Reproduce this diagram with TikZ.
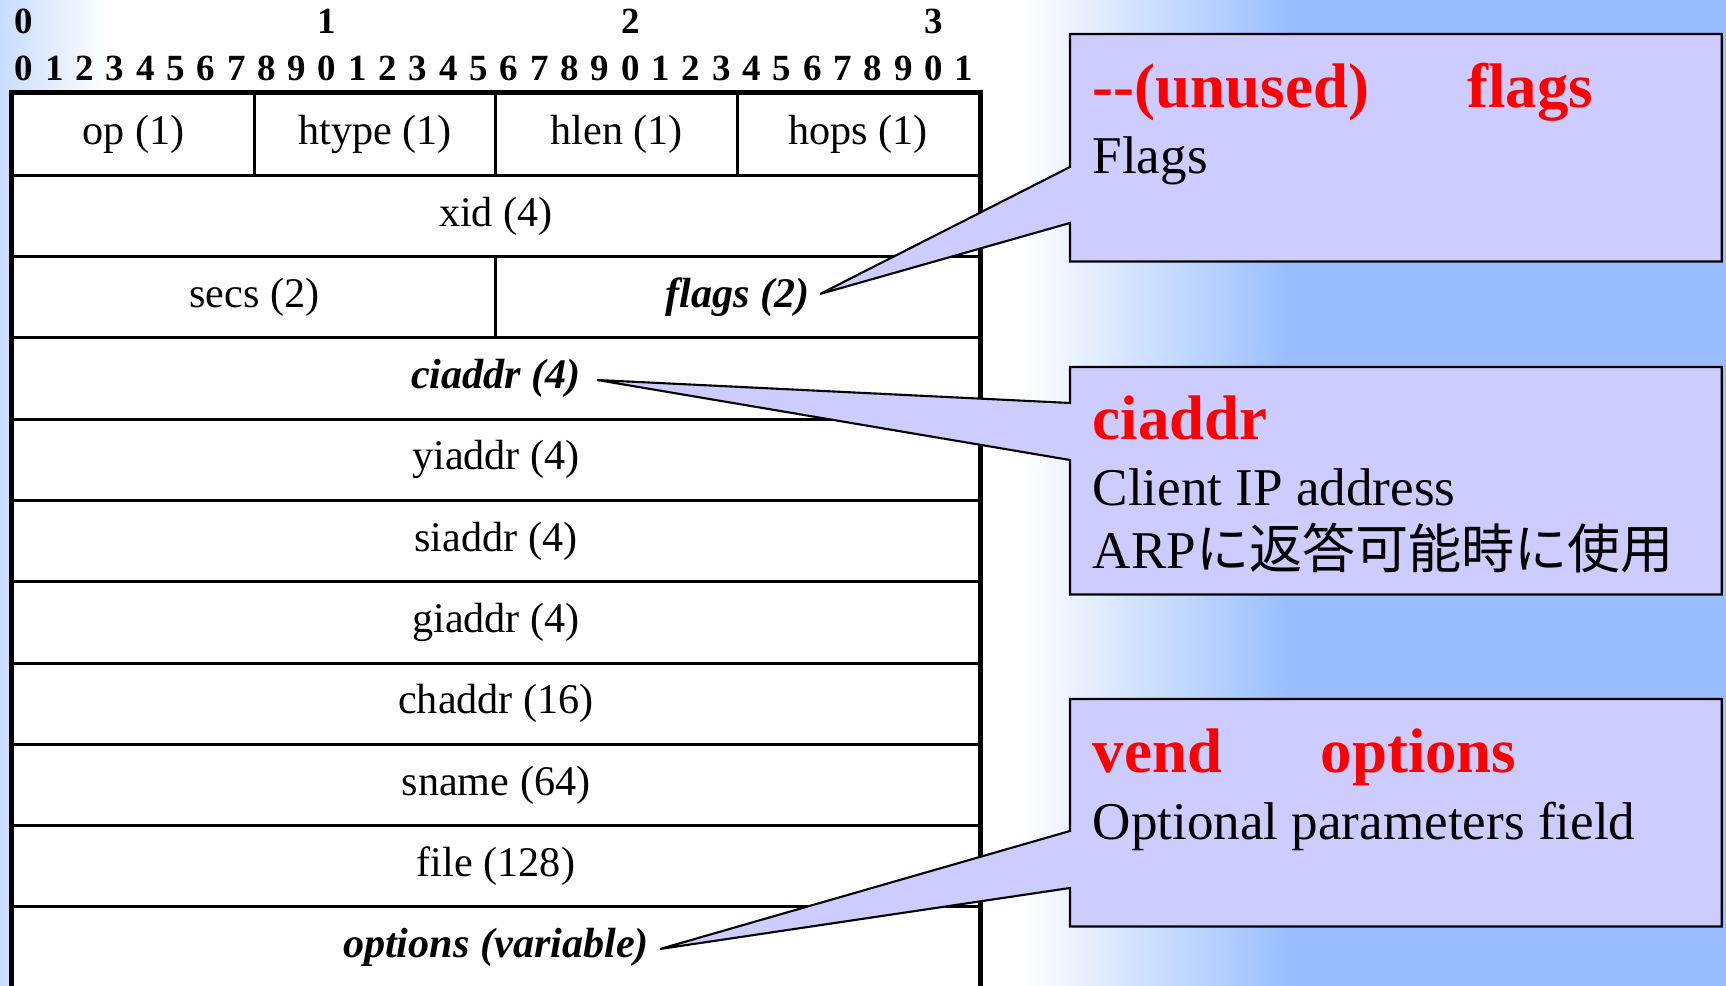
\documentclass[tikz,border=0pt]{standalone}
\usepackage{fontspec}
\setmainfont{Liberation Serif}
\newfontfamily\jpfont{Noto Sans CJK JP}
\usetikzlibrary{calc}

\definecolor{notefill}{RGB}{204,204,255}
\definecolor{slideblue}{RGB}{152,190,255}
\definecolor{slidepale}{RGB}{200,220,255}

\begin{document}
\begin{tikzpicture}[
        x=0.01cm, y=-0.01cm,
        bit/.style={anchor=base, inner sep=0pt, font=\fontsize{10.5}{12}\selectfont\bfseries},
        field/.style={rectangle, draw=black, fill=white, line width=0.85pt, minimum height=0.813cm, inner sep=0pt, font=\fontsize{12}{14}\selectfont},
        quarter/.style={field, minimum width=2.415cm},
        half/.style={field, minimum width=4.83cm},
        whole/.style={field, minimum width=9.66cm},
        keyfield/.style={font=\fontsize{12}{14}\selectfont\bfseries\itshape},
        note/.style={rectangle, anchor=north west, minimum width=6.5cm, minimum height=2.26cm, inner sep=0pt},
        callout/.style={draw=black, fill=notefill, line width=0.6pt, line join=miter},
        notehead/.style={anchor=base west, inner sep=0pt, text=red, font=\fontsize{17.9}{20}\selectfont\bfseries},
        notetext/.style={anchor=base west, inner sep=0pt, font=\fontsize{15.1}{18}\selectfont}
    ]
        \useasboundingbox (0,0) rectangle (1726,986);
        \clip (0,0) rectangle (1726,986);

        % Background
        \fill[white] (0,0) rectangle (1726,986);
        \shade[left color=slidepale, right color=white] (0,0) rectangle (110,986);
        \shade[left color=white, right color=slideblue] (1020,0) rectangle (1290,986);
        \fill[slideblue] (1290,0) rectangle (1726,986);

        % Bit ruler
        \foreach \t in {0,1,2,3}
            \node[bit] (dec\t) at ({24+303.2*\t},34) {\t};
        \foreach \b in {0,...,31} {
            \pgfmathtruncatemacro\d{mod(\b,10)}
            \node[bit] (bit\b) at ({24+30.32*\b},81) {\d};
        }

        % Fields
        \node[quarter] (op) at (133.75,134.65) {op (1)};
        \node[quarter] (htype) at (375.25,134.65) {htype (1)};
        \node[quarter] (hlen) at (616.75,134.65) {hlen (1)};
        \node[quarter] (hops) at (858.25,134.65) {hops (1)};
        \node[whole] (xid) at (496,215.95) {xid (4)};
        \node[half] (secs) at (254.5,297.25) {secs (2)};
        \node[half, keyfield] (flags) at (737.5,297.25) {flags (2)};
        \node[whole, keyfield] (ciaddr) at (496,378.55) {ciaddr (4)};
        \node[whole] (yiaddr) at (496,459.85) {yiaddr (4)};
        \node[whole] (siaddr) at (496,541.15) {siaddr (4)};
        \node[whole] (giaddr) at (496,622.45) {giaddr (4)};
        \node[whole] (chaddr) at (496,703.75) {chaddr (16)};
        \node[whole] (sname) at (496,785.05) {sname (64)};
        \node[whole] (file) at (496,866.35) {file (128)};
        \node[whole, keyfield] (options) at (496,947.65) {options (variable)};
        \draw[line width=1.4pt] (op.north west) rectangle (options.south east);

        % Callouts
        \node[note] (flagsnote) at (1070,34) {};
        \node[note] (ciaddrnote) at (1070,367) {};
        \node[note] (optnote) at (1070,699) {};
        \coordinate (flagstip) at (820,294);
        \coordinate (ciaddrtip) at (597,380);
        \coordinate (opttip) at (660,949);

        \draw[callout] (flagsnote.north west) -- (flagsnote.north east) -- (flagsnote.south east) -- (flagsnote.south west)
            -- ($(flagsnote.north west)+(0,189)$) -- (flagstip) -- ($(flagsnote.north west)+(0,133)$) -- cycle;
        \draw[callout] (ciaddrnote.north west) -- (ciaddrnote.north east) -- (ciaddrnote.south east) -- (ciaddrnote.south west)
            -- ($(ciaddrnote.north west)+(0,93)$) -- (ciaddrtip) -- ($(ciaddrnote.north west)+(0,36)$) -- cycle;
        \draw[callout] (optnote.north west) -- (optnote.north east) -- (optnote.south east) -- (optnote.south west)
            -- ($(optnote.north west)+(0,189)$) -- (opttip) -- ($(optnote.north west)+(0,132)$) -- cycle;

        % Callout texts
        \node[notehead] (flagshead) at ($(flagsnote.north west)+(22,74)$) {{-}{-}(unused)\hspace{28pt}flags};
        \node[notetext] (flagsline) at ($(flagsnote.north west)+(22,140)$) {Flags};
        \node[notehead] (ciaddrhead) at ($(ciaddrnote.north west)+(22,73)$) {ciaddr};
        \node[notetext] (ciaddrline) at ($(ciaddrnote.north west)+(22,139)$) {Client IP address};
        \node[notetext] (arpline) at ($(ciaddrnote.north west)+(22,202)$) {ARP{\jpfont に返答可能時に使用}};
        \node[notehead] (opthead) at ($(optnote.north west)+(22,74)$) {vend\hspace{28pt}options};
        \node[notetext] (optline) at ($(optnote.north west)+(22,141)$) {Optional parameters field};
    \end{tikzpicture}
\end{document}
